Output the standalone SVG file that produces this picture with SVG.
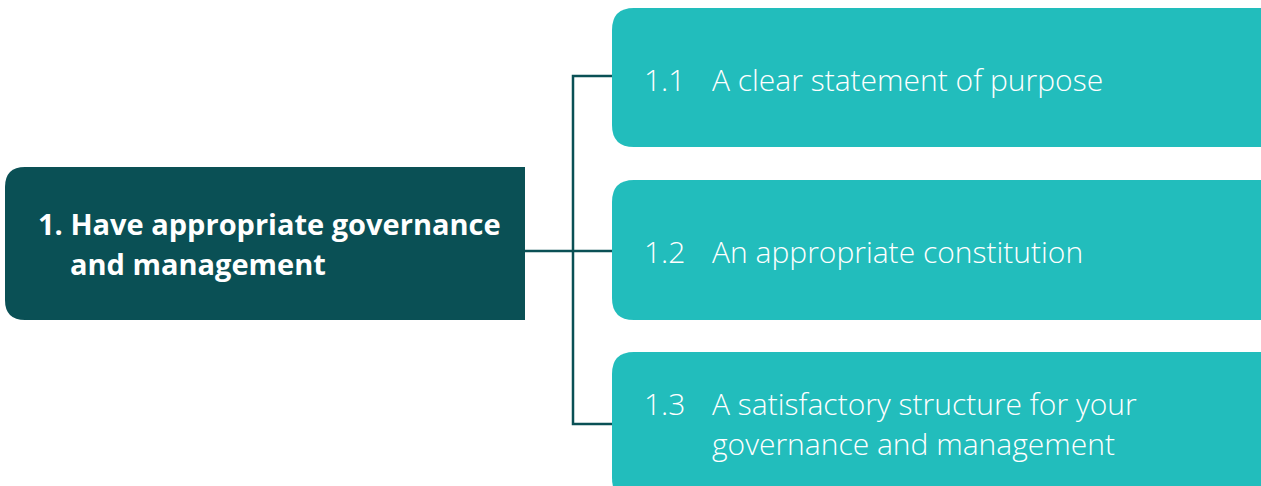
<svg xmlns="http://www.w3.org/2000/svg" width="1261" height="486" viewBox="0 0 1261 486">
<style>
.main{fill:#0a5055}
.sub{fill:#22bdbc}
.mt{font-family:"Open Sans",sans-serif;font-weight:700;font-size:29px;fill:#fff}
.st{font-family:"Open Sans",sans-serif;font-weight:300;font-size:30px;fill:#fff}
.conn{stroke:#0a5055;stroke-width:2.5;fill:none}
</style>
<g id="connectors">
<path class="conn" d="M525 251 H573 M612 76 H573 V424 H612 M573 251 H612"/>
</g>
<g id="node-1">
<path class="main" d="M25 167 H525 V320 H25 Q5 320 5 300 V187 Q5 167 25 167 Z"/>
<text class="mt" x="38" y="235">1. Have appropriate governance</text>
<text class="mt" x="70" y="275">and management</text>
</g>
<g id="node-1-1">
<path class="sub" d="M634 8 H1261 V147 H634 Q612 147 612 125 V30 Q612 8 634 8 Z"/>
<text class="st" x="644" y="91">1.1</text>
<text class="st" x="712" y="91">A clear statement of purpose</text>
</g>
<g id="node-1-2">
<path class="sub" d="M634 180 H1261 V320 H634 Q612 320 612 298 V202 Q612 180 634 180 Z"/>
<text class="st" x="644" y="263">1.2</text>
<text class="st" x="712" y="263">An appropriate constitution</text>
</g>
<g id="node-1-3">
<path class="sub" d="M634 352 H1261 V500 H634 Q612 500 612 478 V374 Q612 352 634 352 Z"/>
<text class="st" x="644" y="415">1.3</text>
<text class="st" x="712" y="415">A satisfactory structure for your</text>
<text class="st" x="712" y="455">governance and management</text>
</g>
</svg>
